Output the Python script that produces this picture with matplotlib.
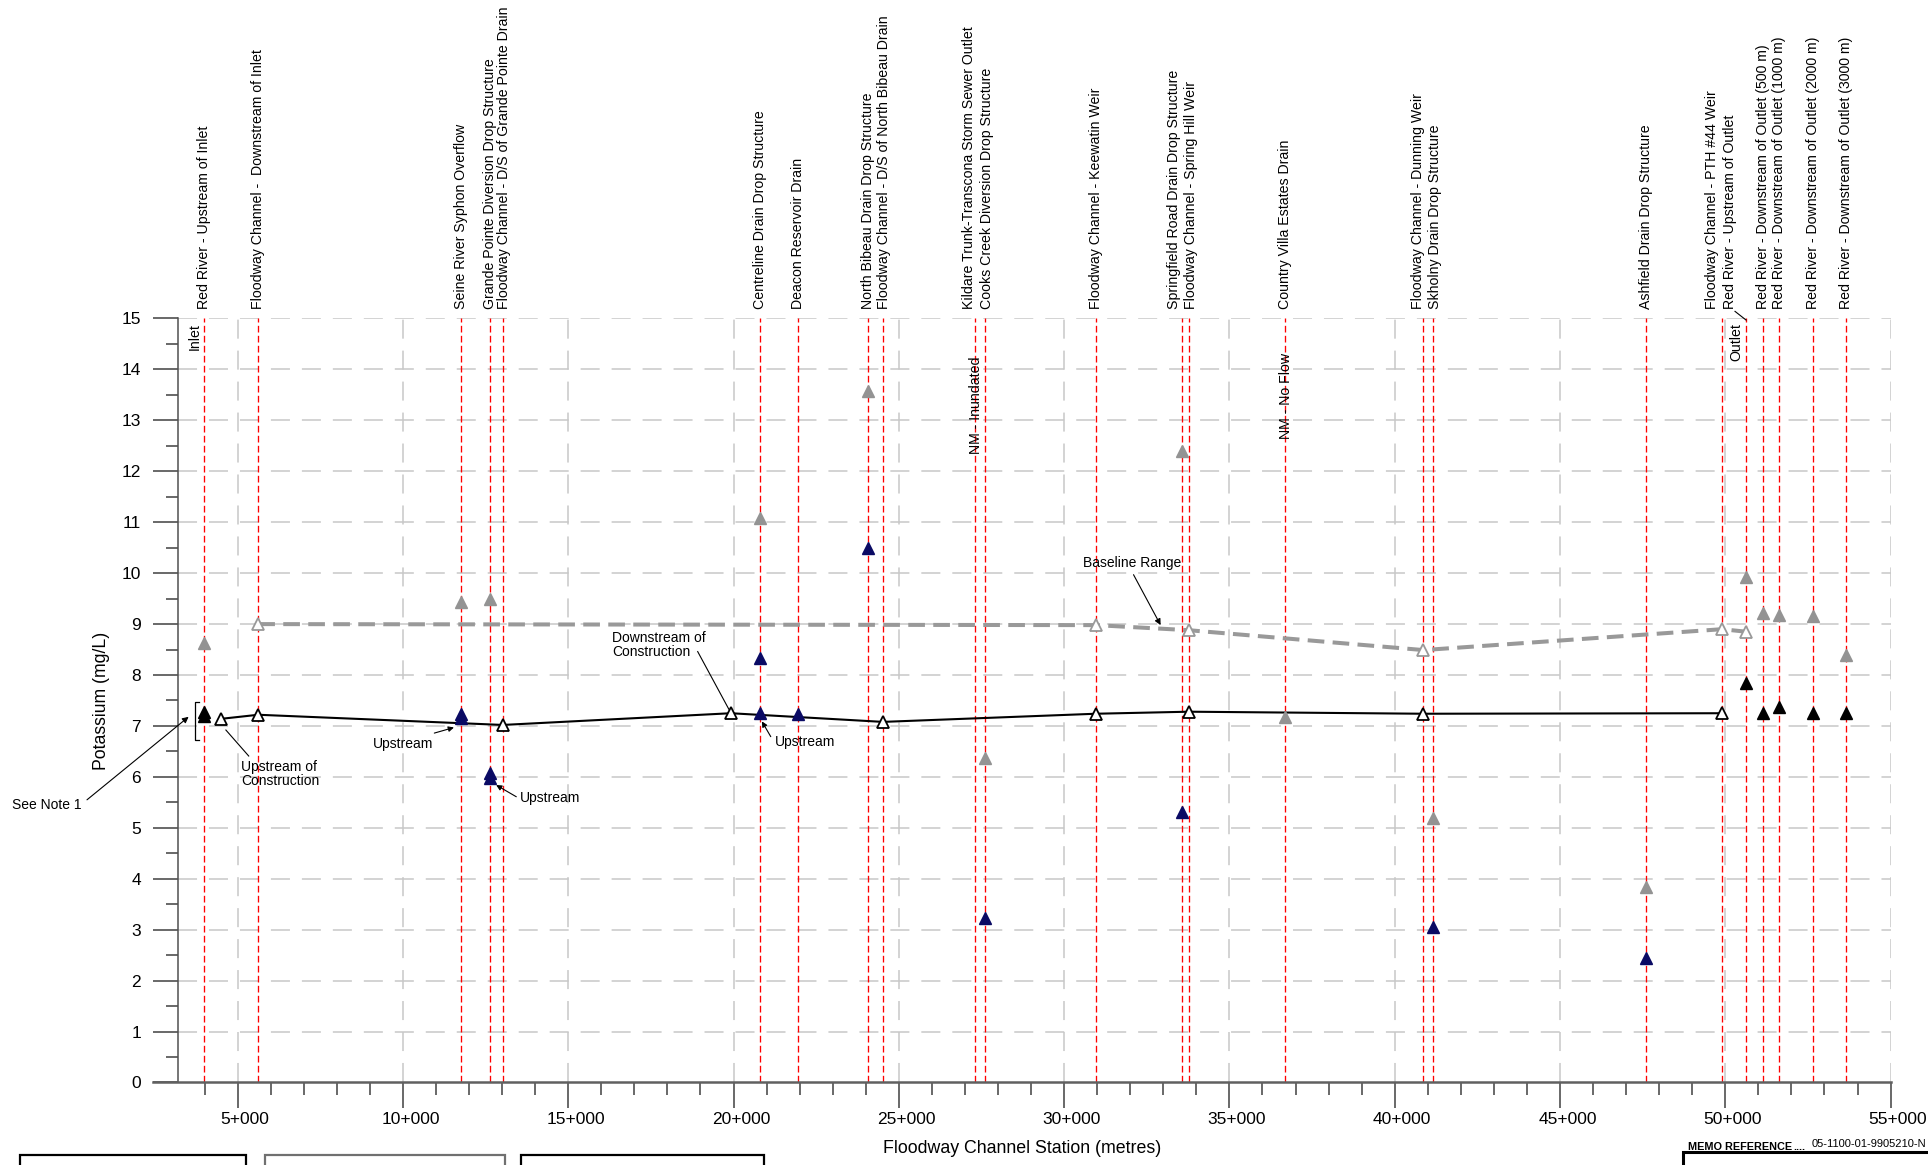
import numpy as np
import matplotlib.pyplot as plt
import matplotlib.transforms as mtransforms
from matplotlib.patches import Rectangle

plt.rcParams['font.family'] = ['Liberation Sans', 'DejaVu Sans']
plt.rcParams['lines.scale_dashes'] = False

# monitoring sites along the floodway (station in metres)
site_names = [
    "Red River - Upstream of Inlet",
    "Floodway Channel -  Downstream of Inlet",
    "Seine River Syphon Overflow",
    "Grande Pointe Diversion Drop Structure",
    "Floodway Channel - D/S of Grande Pointe Drain",
    "Centreline Drain Drop Structure",
    "Deacon Reservoir Drain",
    "North Bibeau Drain Drop Structure",
    "Floodway Channel - D/S of North Bibeau Drain",
    "Kildare Trunk-Transcona Storm Sewer Outlet",
    "Cooks Creek Diversion Drop Structure",
    "Floodway Channel - Keewatin Weir",
    "Springfield Road Drain Drop Structure",
    "Floodway Channel - Spring Hill Weir",
    "Country Villa Estates Drain",
    "Floodway Channel - Dunning Weir",
    "Skholny Drain Drop Structure",
    "Ashfield Drain Drop Structure",
    "Floodway Channel - PTH #44 Weir",
    "Red River - Upstream of Outlet",
    "Red River - Downstream of Outlet (500 m)",
    "Red River - Downstream of Outlet (1000 m)",
    "Red River - Downstream of Outlet (2000 m)",
    "Red River - Downstream of Outlet (3000 m)",
]
site_station = [3990, 5625, 11760, 12640, 13020, 20815, 21950, 24065, 24520,
                27300, 27600, 30960, 33580, 33775, 36690, 40870, 41170, 47615,
                49900, 50640, 51150, 51635, 52640, 53640]

# floodway channel (open black triangles, solid line)
fc_station = [4500, 5625, 13020, 19920, 24520, 30960, 33775, 40870, 49900]
fc_k = [7.14, 7.22, 7.02, 7.25, 7.08, 7.24, 7.28, 7.24, 7.25]

# baseline range (open grey triangles, dashed line)
base_station = [5625, 30960, 33775, 40870, 49900, 50640]
base_k = [9.0, 8.98, 8.88, 8.49, 8.9, 8.85]

# grey filled triangles
gray_station = [3990, 11760, 12640, 20815, 24065, 27600, 33580, 36690, 41170,
                47615, 50640, 51150, 51635, 52640, 53640]
gray_k = [8.62, 9.44, 9.49, 11.08, 13.58, 6.37, 12.39, 7.17, 5.19,
          3.84, 9.93, 9.21, 9.17, 9.15, 8.39]

# navy filled triangles
navy_station = [11760, 11760, 12640, 12640, 20815, 20815, 21950, 24065, 27600,
                33580, 41170, 47615]
navy_k = [7.23, 7.15, 6.08, 5.97, 8.33, 7.25, 7.24, 10.49, 3.22,
          5.31, 3.06, 2.44]

# Red River (black filled triangles)
river_station = [3990, 3990, 50640, 51150, 51635, 52640, 53640]
river_k = [7.28, 7.2, 7.85, 7.25, 7.37, 7.26, 7.26]

x_ticks = list(range(5000, 55001, 5000))
x_ticklabels = [f"{v // 1000}+000" for v in x_ticks]

W, H = 1928, 1165
fig = plt.figure(figsize=(W / 100, H / 100), dpi=100)
ax = fig.add_axes([0.09258, 0.07082, 0.88802, 0.65579])
x0, x1 = 3212, 55000
ax.set_xlim(x0, x1)
ax.set_ylim(0, 15)
px_per_m = 0.88802 * W / (x1 - x0)

# grid
grid_ls = (0, (13.7, 8.6))
for y in range(1, 16):
    ax.axhline(y, color='#c8c8c8', lw=1.1, ls=grid_ls, zorder=0)
for x in x_ticks:
    ax.axvline(x, color='#c8c8c8', lw=1.1, ls=grid_ls, zorder=0)

# site lines
for s in site_station:
    ax.axvline(s, color='red', lw=0.95, ls=(0, (4.8, 2.4)), zorder=1)

# series
ax.plot(base_station, base_k, color='#999999', lw=2.9, ls=(0, (12, 6)), zorder=2)
ax.plot(fc_station, fc_k, color='black', lw=1.5, zorder=3)
ax.plot(gray_station, gray_k, ls='none', marker='^', ms=8, color='#939393', zorder=4)
ax.plot(navy_station, navy_k, ls='none', marker='^', ms=8, color='#0a0a64', zorder=4)
ax.plot(river_station, river_k, ls='none', marker='^', ms=8, color='black', zorder=4)
ax.plot(base_station, base_k, ls='none', marker='^', ms=8, mfc='white',
        mec='#999999', mew=1.3, zorder=5)
ax.plot(fc_station, fc_k, ls='none', marker='^', ms=8, mfc='white',
        mec='black', mew=1.3, zorder=5)

# axes styling
for side in ['top', 'right', 'bottom']:
    ax.spines[side].set_visible(False)
ax.spines['left'].set_color('#505050')
ax.spines['left'].set_linewidth(1.1)
ax.plot([2440, x1], [0, 0], color='#606060', lw=1.8, clip_on=False, zorder=6)

ax.set_yticks(range(16))
ax.set_yticks(np.arange(0.5, 15, 1), minor=True)
ax.set_xticks(x_ticks)
ax.set_xticklabels(x_ticklabels)
ax.set_xticks([v for v in range(4000, 55000, 1000) if v % 5000], minor=True)
ax.tick_params(axis='y', which='major', length=18, width=1.1, color='#404040',
               labelsize=12.5, pad=8.9)
ax.tick_params(axis='y', which='minor', length=9, width=1.1, color='#404040')
ax.tick_params(axis='x', which='major', length=18.5, width=1.1, color='#404040',
               labelsize=12.5, pad=2.5)
ax.tick_params(axis='x', which='minor', length=9.6, width=1.1, color='#404040')
shift = mtransforms.ScaledTranslation(7.5 / 100, 0, fig.dpi_scale_trans)
for lab in ax.get_xticklabels():
    lab.set_transform(lab.get_transform() + shift)

ax.set_xlabel("Floodway Channel Station (metres)", fontsize=12.8, va='top')
ax.xaxis.set_label_coords(0.4927, -0.0753)
ax.set_ylabel("Potassium (mg/L)", fontsize=12.7)
ax.yaxis.set_label_coords(-0.0401, 0.5)

# site labels above the plot (nudged in pixels where they would overlap)
nudge_px = {4: 1.6, 8: 1.2, 9: -5.6, 10: 1.9, 12: -8.2, 13: 2.2,
            15: -5.3, 16: 1.6, 18: -9.5, 19: -16}
for i, (name, s) in enumerate(zip(site_names, site_station)):
    xs = s + nudge_px.get(i, 0) / px_per_m
    ax.text(xs, 15.19, name, rotation=90, ha='center', va='bottom',
            fontsize=10.2, clip_on=False)

ax.text(3711, 14.91, "Inlet", rotation=90, ha='center', va='top', fontsize=10.2)
ax.text(50324, 14.91, "Outlet", rotation=90, ha='center', va='top', fontsize=10.2)
ax.plot([50294, 50627], [15.14, 14.97], color='black', lw=0.8, clip_on=False)
ax.text(27340, 13.3, "NM - Inundated", rotation=90, ha='center', va='center',
        fontsize=10.2)
ax.text(36705, 13.47, "NM - No Flow", rotation=90, ha='center', va='center',
        fontsize=10.2)

# annotations
ann = dict(fontsize=10, va='center')
ax.text(32060, 10.2, "Baseline Range", ha='center', **ann)
ax.annotate('', xy=(32920, 8.98), xytext=(32100, 9.97),
            arrowprops=dict(arrowstyle='-|>', color='black', lw=0.8,
                            mutation_scale=9, shrinkA=0, shrinkB=0))
ax.text(16330, 8.59, "Downstream of\nConstruction", ha='left', linespacing=1.0, **ann)
ax.plot([18917, 19858], [8.46, 7.33], color='black', lw=0.8)
ax.text(5109, 6.05, "Upstream of\nConstruction", ha='left', linespacing=1.0, **ann)
ax.plot([5336, 4646], [6.41, 6.92], color='black', lw=0.8)

for tx, ty, tail, head in [
        (9097, 6.64, (10950, 6.86), (11543, 6.97)),
        (13542, 5.58, (13430, 5.61), (12820, 5.84)),
        (21262, 6.69, (21127, 6.79), (20859, 7.09))]:
    ax.text(tx, ty, "Upstream", ha='left', **ann)
    ax.annotate('', xy=head, xytext=tail,
                arrowprops=dict(arrowstyle='-|>', color='black', lw=0.8,
                                mutation_scale=8, shrinkA=0, shrinkB=0))

ax.text(-1812, 5.45, "See Note 1", ha='left', **ann)
ax.annotate('', xy=(3518, 7.18), xytext=(444, 5.55), annotation_clip=False,
            arrowprops=dict(arrowstyle='-|>', color='black', lw=0.8,
                            mutation_scale=9, shrinkA=0, shrinkB=0))
ax.plot([3825, 3705, 3705, 3825], [7.48, 7.48, 6.72, 6.72], color='black',
        lw=0.9, clip_on=False)


# page furniture at the bottom edge
def fx(px):
    return px / W


def fy(py):
    return 1 - py / H


for bx0, bx1, ec in [(19.6, 245.6, 'black'), (264.5, 505, '#707070'),
                     (521, 763.6, 'black'), (1683, 1940, 'black')]:
    top = 1152 if bx0 > 1000 else 1155
    fig.patches.append(Rectangle((fx(bx0), fy(1180)), fx(bx1) - fx(bx0),
                                 fy(top) - fy(1180), transform=fig.transFigure,
                                 fill=False, ec=ec, lw=1.6 if bx0 < 1000 else 2.2))
fig.text(fx(1688), fy(1149.5), "MEMO REFERENCE", fontsize=7.8, weight='bold',
         va='baseline')
fig.text(fx(1793), fy(1149.5), "....", fontsize=7.8, weight='bold', va='baseline')
fig.text(fx(1811.7), fy(1146.7), "05-1100-01-9905210-N", fontsize=8, va='baseline')

fig.savefig('out.png', dpi=100)
